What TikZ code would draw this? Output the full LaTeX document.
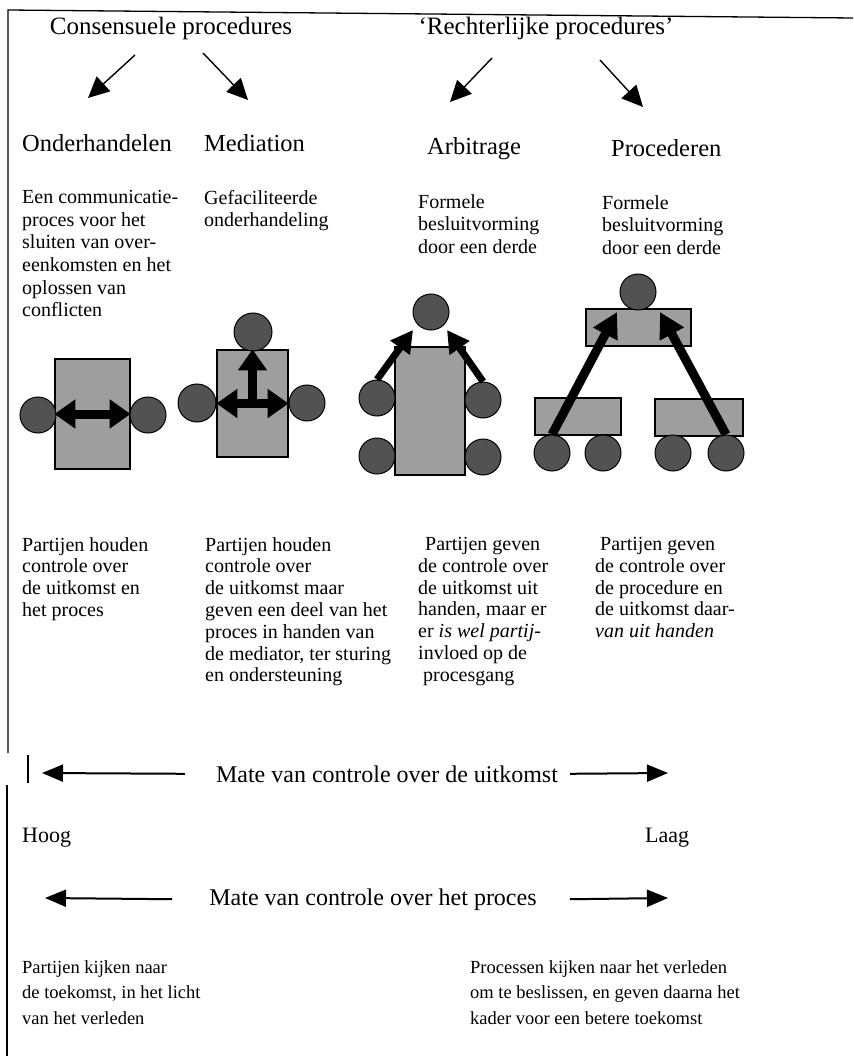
\documentclass[tikz,border=0pt]{standalone}
\usepackage{fontspec}
\setmainfont{Liberation Serif}
\usetikzlibrary{arrows.meta}
\definecolor{boxgray}{gray}{0.62}
\definecolor{partygray}{gray}{0.32}
\tikzset{
  heading/.style={inner sep=0pt, anchor=base, font=\fontsize{25}{30}\selectfont},
  method/.style={inner sep=0pt, anchor=base west, font=\fontsize{24.5}{30}\selectfont},
  desc/.style={inner sep=0pt, anchor=north west, align=left, font=\fontsize{20}{22.7}\selectfont},
  effect/.style={inner sep=0pt, anchor=north west, align=left, font=\fontsize{20}{21.8}\selectfont},
  axislabel/.style={inner sep=0pt, anchor=base, font=\fontsize{24}{30}\selectfont},
  endlabel/.style={inner sep=0pt, anchor=base west, font=\fontsize{22}{26}\selectfont},
  outlook/.style={inner sep=0pt, anchor=north west, align=left, font=\fontsize{18.5}{25.5}\selectfont},
  table/.style={draw=black, line width=1.2pt, fill=boxgray, inner sep=0pt},
  party/.style={circle, draw=black, line width=1pt, fill=partygray, minimum size=36pt, inner sep=0pt},
  pointer/.style={line width=1.4pt, -{Triangle[length=21pt,width=20pt]}},
  scalearrow/.style={line width=2pt, -{Triangle[length=21pt,width=17pt]}},
  fat/.style={line width=9pt, -{Triangle[length=21pt,width=28pt]}},
  fatboth/.style={line width=9pt, {Triangle[length=21pt,width=28pt]}-{Triangle[length=21pt,width=28pt]}},
  slim/.style={line width=7pt, -{Triangle[length=22pt,width=23pt]}},
  tall/.style={line width=9pt, -{Triangle[length=25pt,width=26pt]}}
}
\begin{document}
\begin{tikzpicture}[x=1pt,y=-1pt]
    \useasboundingbox (0,0) rectangle (853,1056);
    \draw[line width=1.3pt] (853,18) -- (8,10) -- (8,753);
    \draw[line width=1.2pt] (28,755) -- (28,783);
    \draw[line width=1.2pt] (7,785) -- (7,1056);

    \node[heading] (consensus) at (171,35) {Consensuele procedures};
    \node[heading] (judicial) at (546,35) {`Rechterlijke procedures'};
    \coordinate (consL) at (135,55);
    \coordinate (consR) at (203,53);
    \coordinate (judL) at (492,58);
    \coordinate (judR) at (600,60);
    \coordinate (ondTip) at (88,98);
    \coordinate (medTip) at (248,100);
    \coordinate (arbTip) at (450,102);
    \coordinate (proTip) at (643,107);
    \draw[pointer] (consL) -- (ondTip);
    \draw[pointer] (consR) -- (medTip);
    \draw[pointer] (judL) -- (arbTip);
    \draw[pointer] (judR) -- (proTip);

    \node[method] (ond) at (22,152) {Onderhandelen};
    \node[method] (med) at (204,152) {Mediation};
    \node[method] (arb) at (427,155) {Arbitrage};
    \node[method] (pro) at (611,157) {Procederen};

    \node[desc] (ondDesc) at (22,190) {Een communicatie-\\proces voor het\\sluiten van over-\\eenkomsten en het\\oplossen van\\conflicten};
    \node[desc] (medDesc) at (204,190) {Gefaciliteerde\\onderhandeling};
    \node[desc] (arbDesc) at (418,194) {Formele\\besluitvorming\\door een derde};
    \node[desc] (proDesc) at (602,195) {Formele\\besluitvorming\\door een derde};

    \begin{scope}
        \node[table, minimum width=75pt, minimum height=110pt] (ondTable) at (92.5,414) {};
        \node[party] (ondA) at (38,415) {};
        \node[party] (ondB) at (148,415) {};
        \draw[fatboth] (ondTable.west) -- (ondTable.east);
    \end{scope}
    \begin{scope}
        \node[table, minimum width=71pt, minimum height=107pt] (medTable) at (252.5,403.5) {};
        \node[party, minimum size=38pt] (medTop) at (253,332) {};
        \node[party, minimum size=38pt] (medA) at (197,403) {};
        \node[party] (medB) at (307,403) {};
        \draw[fatboth] (medTable.west) -- (medTable.east);
        \draw[fat] (medTable.center) -- (medTable.north);
    \end{scope}
    \begin{scope}
        \node[table, minimum width=70pt, minimum height=128pt] (arbTable) at (430,411) {};
        \node[party] (arbTop) at (431,312) {};
        \node[party] (arbA) at (377,398) {};
        \node[party] (arbB) at (377,456) {};
        \node[party] (arbC) at (483,400) {};
        \node[party] (arbD) at (483,457) {};
        \coordinate (arbUpA) at (413,330);
        \coordinate (arbUpC) at (447,330);
        \draw[slim] (arbA.north) -- (arbUpA);
        \draw[slim] (arbC.north) -- (arbUpC);
    \end{scope}
    \begin{scope}
        \node[table, minimum width=105pt, minimum height=37pt] (proCourt) at (638.5,327.5) {};
        \node[table, minimum width=86pt, minimum height=37pt] (proLeft) at (578,416.5) {};
        \node[table, minimum width=88pt, minimum height=37pt] (proRight) at (699,417.5) {};
        \node[party] (proTop) at (638,292) {};
        \node[party] (proA) at (552,453) {};
        \node[party] (proB) at (603,453) {};
        \node[party] (proC) at (673,453) {};
        \node[party] (proD) at (726,453) {};
        \coordinate (proUpA) at (617,312);
        \coordinate (proUpD) at (660,312);
        \draw[tall] (proA.north) -- (proUpA);
        \draw[tall] (proD.north) -- (proUpD);
    \end{scope}

    \node[effect] (ondEffect) at (22,537) {Partijen houden\\controle over\\de uitkomst en\\het proces};
    \node[effect] (medEffect) at (205,537) {Partijen houden\\controle over\\de uitkomst maar\\geven een deel van het\\proces in handen van\\de mediator, ter sturing\\en ondersteuning};
    \node[effect] (arbEffect) at (418,537) {\hspace{7pt}Partijen geven\\de controle over\\de uitkomst uit\\handen, maar er\\er \textit{is wel partij-}\\invloed op de\\\hspace{5pt}procesgang};
    \node[effect] (proEffect) at (595,537) {\hspace{5pt}Partijen geven\\de controle over\\de procedure en\\de uitkomst daar-\\\textit{van uit handen}};

    \node[axislabel] (outcome) at (387,782) {Mate van controle over de uitkomst};
    \coordinate (outcomeHigh) at (42,773);
    \coordinate (outcomeLow) at (668,773);
    \draw[scalearrow] ([xshift=-31pt]outcome.west) -- (outcomeHigh);
    \draw[scalearrow] ([xshift=12pt]outcome.east) -- (outcomeLow);

    \node[endlabel] (high) at (22,842) {Hoog};
    \node[endlabel] (low) at (645,842) {Laag};

    \node[axislabel] (process) at (373,905) {Mate van controle over het proces};
    \coordinate (processHigh) at (45,898);
    \coordinate (processLow) at (668,898);
    \draw[scalearrow] ([xshift=-37pt]process.west) -- (processHigh);
    \draw[scalearrow] ([xshift=33pt]process.east) -- (processLow);

    \node[outlook] (future) at (22,960) {Partijen kijken naar\\de toekomst, in het licht\\van het verleden};
    \node[outlook] (past) at (470,960) {Processen kijken naar het verleden\\om te beslissen, en geven daarna het\\kader voor een betere toekomst};
\end{tikzpicture}
\end{document}
